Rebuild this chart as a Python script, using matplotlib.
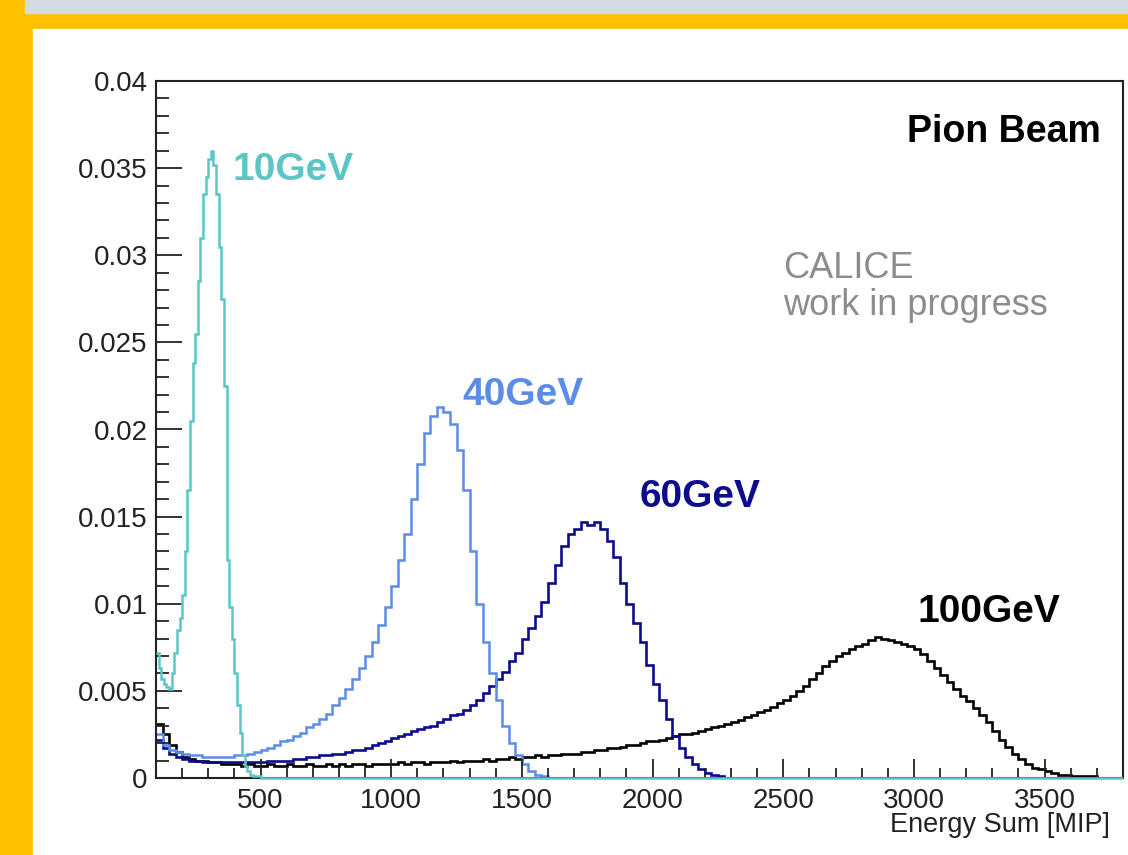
import matplotlib.pyplot as plt
import numpy as np
from matplotlib.patches import Rectangle
from matplotlib.ticker import MultipleLocator

plt.rcParams['font.family'] = ['Liberation Sans', 'DejaVu Sans']

# energy-sum histograms (normalised), bin contents from the first bin edge upwards
start_10, width_10 = 100, 10
e10 = [0.0072, 0.0063, 0.0057, 0.0054, 0.0052, 0.0051, 0.0060, 0.0072, 0.0085, 0.0092,
       0.0105, 0.0130, 0.0165, 0.0205, 0.0238, 0.0255, 0.0285, 0.0310, 0.0335, 0.0345,
       0.0355, 0.0360, 0.0352, 0.0335, 0.0305, 0.0275, 0.0225, 0.0125, 0.0098, 0.0080,
       0.0060, 0.0042, 0.0026, 0.0013, 0.0007, 0.0004, 0.0002, 0.0001, 0.0001, 0.0001]

start_40, width_40 = 100, 25
e40 = [0.0025, 0.0019, 0.0016, 0.0015, 0.0014, 0.0013, 0.0013, 0.0012, 0.0012, 0.0012,
       0.0012, 0.0012, 0.0013, 0.0013, 0.0014, 0.0015, 0.0016, 0.0017, 0.0019, 0.0021,
       0.0022, 0.0024, 0.0026, 0.0029, 0.0031, 0.0034, 0.0037, 0.0042, 0.0046, 0.0051,
       0.0057, 0.0063, 0.0070, 0.0078, 0.0088, 0.0098, 0.0110, 0.0125, 0.0140, 0.0160,
       0.0180, 0.0198, 0.0208, 0.0213, 0.0210, 0.0203, 0.0188, 0.0165, 0.0130, 0.0100,
       0.0078, 0.0060, 0.0045, 0.0030, 0.0020, 0.0013, 0.0008, 0.0004, 0.0002, 0.0001,
       0.0000]

start_60, width_60 = 100, 25
e60 = [0.0022, 0.0017, 0.0014, 0.0012, 0.0011, 0.0010, 0.0010, 0.0009, 0.0009, 0.0009,
       0.0009, 0.0009, 0.0009, 0.0009, 0.0009, 0.0009, 0.0009, 0.0010, 0.0010, 0.0010,
       0.0010, 0.0011, 0.0011, 0.0012, 0.0012, 0.0013, 0.0013, 0.0014, 0.0014, 0.0015,
       0.0016, 0.0016, 0.0017, 0.0019, 0.0020, 0.0021, 0.0023, 0.0024, 0.0025, 0.0027,
       0.0028, 0.0029, 0.0030, 0.0032, 0.0034, 0.0036, 0.0037, 0.0039, 0.0042, 0.0045,
       0.0049, 0.0053, 0.0057, 0.0061, 0.0067, 0.0072, 0.0080, 0.0086, 0.0093, 0.0101,
       0.0112, 0.0122, 0.0133, 0.0140, 0.0143, 0.0147, 0.0145, 0.0147, 0.0143, 0.0136,
       0.0127, 0.0112, 0.0100, 0.0089, 0.0078, 0.0065, 0.0054, 0.0045, 0.0034, 0.0024,
       0.0017, 0.0012, 0.0008, 0.0005, 0.0003, 0.0002, 0.0001, 0.0000]

start_100, width_100 = 100, 25
e100 = [0.0031, 0.0025, 0.0019, 0.0015, 0.0012, 0.0011, 0.0010, 0.0010, 0.0009, 0.0009,
        0.0008, 0.0008, 0.0008, 0.0007, 0.0008, 0.0007, 0.0007, 0.0008, 0.0007, 0.0007,
        0.0008, 0.0007, 0.0007, 0.0008, 0.0007, 0.0007, 0.0008, 0.0007, 0.0008, 0.0007,
        0.0008, 0.0008, 0.0007, 0.0008, 0.0008, 0.0008, 0.0008, 0.0009, 0.0008, 0.0009,
        0.0009, 0.0008, 0.0009, 0.0009, 0.0009, 0.0010, 0.0009, 0.0010, 0.0010, 0.0010,
        0.0011, 0.0010, 0.0011, 0.0011, 0.0012, 0.0011, 0.0012, 0.0012, 0.0013, 0.0012,
        0.0013, 0.0013, 0.0014, 0.0014, 0.0014, 0.0015, 0.0015, 0.0016, 0.0016, 0.0017,
        0.0017, 0.0018, 0.0019, 0.0019, 0.0020, 0.0021, 0.0021, 0.0022, 0.0023, 0.0024,
        0.0025, 0.0025, 0.0026, 0.0027, 0.0028, 0.0029, 0.0030, 0.0031, 0.0032, 0.0033,
        0.0035, 0.0036, 0.0038, 0.0039, 0.0041, 0.0043, 0.0045, 0.0047, 0.0050, 0.0053,
        0.0057, 0.0060, 0.0064, 0.0067, 0.0070, 0.0072, 0.0074, 0.0076, 0.0077, 0.0079,
        0.0081, 0.0080, 0.0079, 0.0078, 0.0077, 0.0076, 0.0074, 0.0071, 0.0067, 0.0063,
        0.0059, 0.0055, 0.0051, 0.0047, 0.0044, 0.0040, 0.0036, 0.0032, 0.0027, 0.0022,
        0.0018, 0.0014, 0.0011, 0.0008, 0.0006, 0.0005, 0.0004, 0.0003, 0.0002, 0.0002,
        0.0001, 0.0001, 0.0001, 0.0001, 0.0000, 0.0000, 0.0000, 0.0000]

xmin, xmax = 100, 3800

c10 = '#5cc6c6'
c40 = '#5b8de6'
c60 = '#0c0c8c'
c100 = 'black'


def edges(start, width, vals):
    return start + width * np.arange(len(vals) + 1)


fig = plt.figure(figsize=(11.28, 8.55), dpi=100)
fig.patch.set_facecolor('#ffc000')
# slide decoration: grey strip on top, white panel holding the plot
fig.patches.append(Rectangle((25 / 1128, 1 - 13 / 855), 1, 13 / 855,
                             transform=fig.transFigure, color='#d6dbe3', zorder=-5))
fig.patches.append(Rectangle((33 / 1128, 0), 1, 1 - 29 / 855,
                             transform=fig.transFigure, color='white', zorder=-5))

ax = fig.add_axes([156 / 1128, 77 / 855, 967 / 1128, 697 / 855])
ax.set_zorder(2)
ax.set_facecolor('white')

# the 10 GeV histogram keeps running at zero up to the end of the axis
n_tail = int((xmax - (start_10 + width_10 * len(e10))) / width_10)
e10_full = np.concatenate([e10, np.zeros(n_tail)])

ax.stairs(e100, edges(start_100, width_100, e100), color=c100, lw=1.9, baseline=None)
ax.stairs(e60, edges(start_60, width_60, e60), color=c60, lw=1.9, baseline=None)
ax.stairs(e40, edges(start_40, width_40, e40), color=c40, lw=1.8, baseline=None)
ax.stairs(e10_full, edges(start_10, width_10, e10_full), color=c10, lw=1.8,
          baseline=None, clip_on=False, zorder=3)

ax.set_xlim(xmin, xmax)
ax.set_ylim(0, 0.04)
ax.xaxis.set_major_locator(MultipleLocator(500))
ax.xaxis.set_minor_locator(MultipleLocator(100))
ax.yaxis.set_minor_locator(MultipleLocator(0.001))
ax.set_yticks([0, 0.005, 0.01, 0.015, 0.02, 0.025, 0.03, 0.035, 0.04])
ax.set_yticklabels(['0', '0.005', '0.01', '0.015', '0.02', '0.025', '0.03', '0.035', '0.04'])

ax.tick_params(axis='both', which='both', direction='in', top=False, right=False,
               labelsize=20, width=1.3, colors='#222222')
ax.tick_params(axis='y', which='major', length=19, pad=6)
ax.tick_params(axis='y', which='minor', length=9.5)
ax.tick_params(axis='x', which='major', length=13.5, pad=7)
ax.tick_params(axis='x', which='minor', length=7)
for s in ax.spines.values():
    s.set_linewidth(1.5)
    s.set_color('#222222')

fig.text(1110 / 1128, 1 - 825 / 855, 'Energy Sum [MIP]', ha='right', va='center',
         fontsize=19.5, color='#222222')

ax.text(393, 0.0343, '10GeV', color=c10, fontsize=28, fontweight='bold')
ax.text(1272, 0.02141, '40GeV', color=c40, fontsize=28, fontweight='bold')
ax.text(1952, 0.01555, '60GeV', color=c60, fontsize=28, fontweight='bold')
ax.text(3014, 0.00895, '100GeV', color=c100, fontsize=28, fontweight='bold')
ax.text(3717, 0.0365, 'Pion Beam', color='black', fontsize=27, fontweight='bold', ha='right')
ax.text(2498, 0.02869, 'CALICE', color='#8c8c8c', fontsize=26)
ax.text(2498, 0.02657, 'work in progress', color='#8c8c8c', fontsize=26)

fig.savefig('out.png', dpi=100, facecolor=fig.get_facecolor())
